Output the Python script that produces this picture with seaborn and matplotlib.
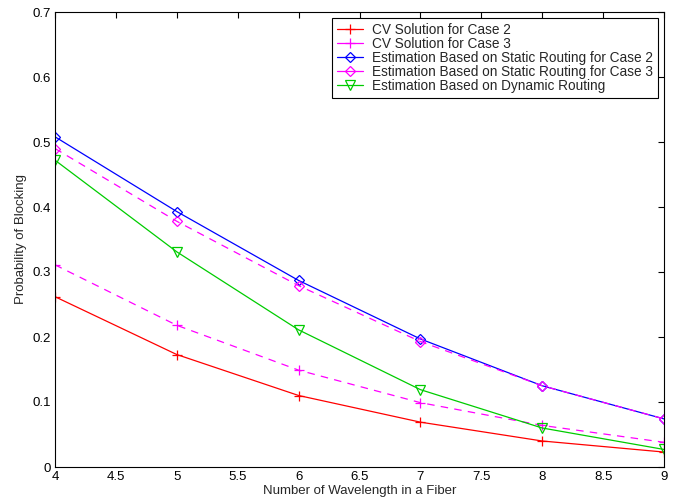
import copy
import numpy as np
import pandas as pd
import matplotlib
matplotlib.use("Agg")
import matplotlib.pyplot as plt
import seaborn as sns

wavelengths = [4, 5, 6, 7, 8, 9]
cv_case2 = [0.262, 0.173, 0.110, 0.069, 0.040, 0.023]
cv_case3 = [0.311, 0.218, 0.149, 0.099, 0.064, 0.038]
static_case2 = [0.508, 0.393, 0.287, 0.197, 0.125, 0.074]
static_case3 = [0.490, 0.378, 0.279, 0.193, 0.125, 0.074]
dynamic = [0.472, 0.331, 0.211, 0.119, 0.060, 0.027]

series_names = [
    "CV Solution for Case 2",
    "CV Solution for Case 3",
    "Estimation Based on Static Routing for Case 2",
    "Estimation Based on Static Routing for Case 3",
    "Estimation Based on Dynamic Routing",
]
series_values = [cv_case2, cv_case3, static_case2, static_case3, dynamic]

sns.set_theme(style="white")
plt.rcParams["font.family"] = ["Liberation Sans", "DejaVu Sans"]

rows = []
for name, vals in zip(series_names, series_values):
    for x, y in zip(wavelengths, vals):
        rows.append({"Wavelengths": x, "Blocking": y, "Series": name})
df = pd.DataFrame(rows)

dash = (0, (6, 5))
styles = {
    series_names[0]: dict(color="#ff0000", marker="+", ls="-", ms=7),
    series_names[1]: dict(color="#ff00ff", marker="+", ls=dash, ms=7),
    series_names[2]: dict(color="#0000ff", marker="D", ls="-", ms=5),
    series_names[3]: dict(color="#ff00ff", marker="D", ls=dash, ms=5),
    series_names[4]: dict(color="#00cc00", marker="v", ls="-", ms=6.5),
}

fig = plt.figure(figsize=(6.77, 5.03), dpi=100)
ax = fig.add_axes([55 / 677, 1 - 467 / 503, (664 - 55) / 677, (467 - 12) / 503])

for name in series_names:
    st = styles[name]
    sub = df[df["Series"] == name]
    sns.lineplot(data=sub, x="Wavelengths", y="Blocking", ax=ax, color=st["color"],
                 marker=st["marker"], markersize=st["ms"], markerfacecolor="none",
                 markeredgecolor=st["color"], markeredgewidth=0.9,
                 linewidth=0.9, label=name)
    ax.lines[-1].set_linestyle(st["ls"])

ax.set_xlim(4, 9)
ax.set_ylim(0, 0.7)
ax.set_xticks(np.arange(4, 9.01, 0.5))
ax.set_xticklabels(["4", "4.5", "5", "5.5", "6", "6.5", "7", "7.5", "8", "8.5", "9"])
ax.set_yticks(np.arange(0, 0.71, 0.1))
ax.set_yticklabels(["0", "0.1", "0.2", "0.3", "0.4", "0.5", "0.6", "0.7"])
ax.tick_params(direction="in", length=4, width=0.8, labelsize=9.5, top=True, right=True,
               colors="black", pad=3)
for sp in ax.spines.values():
    sp.set_color("black")
    sp.set_linewidth(0.8)
ax.set_xlabel("Number of Wavelength in a Fiber", fontsize=9.5, labelpad=1)
ax.set_ylabel("Probability of Blocking", fontsize=9.5, labelpad=4)

handles, labels = ax.get_legend_handles_labels()
proxies = []
for h in handles:
    p = copy.copy(h)
    p.set_linestyle("-")
    proxies.append(p)
leg = ax.legend(proxies, labels, loc="upper right", bbox_to_anchor=(0.990, 0.9868),
                fontsize=9.8, frameon=True, fancybox=False, edgecolor="black",
                framealpha=1, borderpad=0.35, labelspacing=0.0, handlelength=1.9,
                handletextpad=0.7, borderaxespad=0)
leg.get_frame().set_linewidth(0.8)

fig.savefig("out.png", dpi=100)
